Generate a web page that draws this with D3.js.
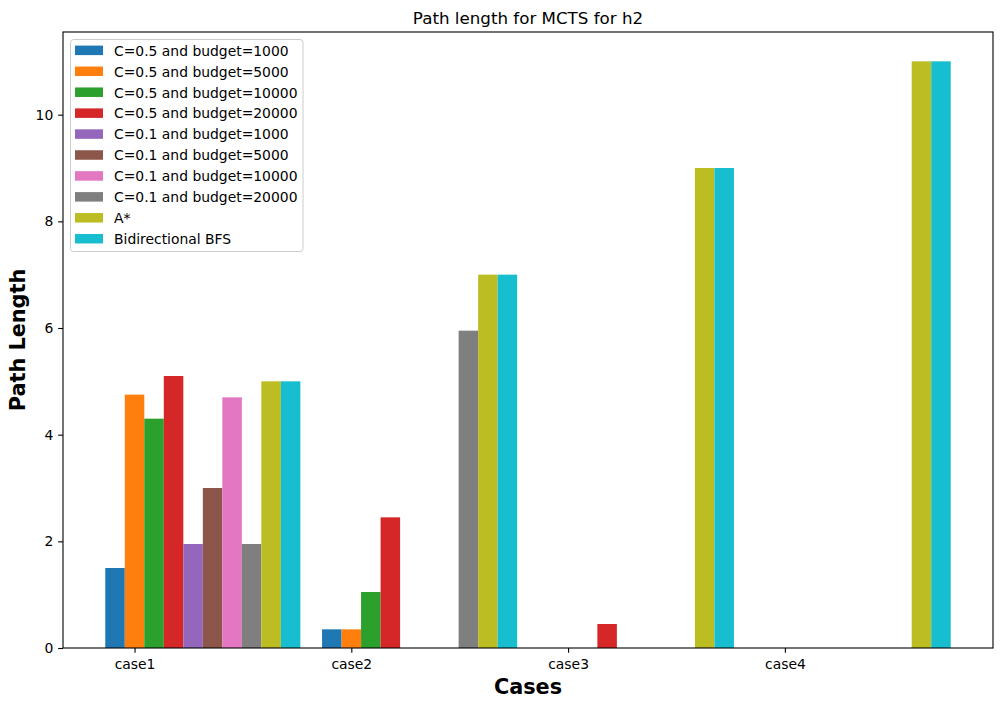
<!DOCTYPE html>
<html lang='en'>

<head>
  <meta charset="utf-8">
  <title>Path length for MCTS for h2</title>
  <style>
    body {
      margin: 0;
      background: #fff;
    }

    svg text {
      font-family: "DejaVu Sans", sans-serif;
      fill: #000;
    }
  </style>
</head>

<body>
  <svg id="chart" width="1002" height="707"></svg>
</body>

<script src="https://d3js.org/d3.v7.min.js"></script>
<script>
  // du lieu doc tu hinh
  const cases = ["case1", "case2", "case3", "case4"];
  const seriesNames = [
    "C=0.5 and budget=1000", "C=0.5 and budget=5000", "C=0.5 and budget=10000", "C=0.5 and budget=20000",
    "C=0.1 and budget=1000", "C=0.1 and budget=5000", "C=0.1 and budget=10000", "C=0.1 and budget=20000",
    "A*", "Bidirectional BFS"
  ];
  const c05_1000 = [1.5, 0.35, 0, 0];
  const c05_5000 = [4.75, 0.35, 0, 0];
  const c05_10000 = [4.3, 1.05, 0, 0];
  const c05_20000 = [5.1, 2.45, 0.45, 0];
  const c01_1000 = [1.95, 0, 0, 0];
  const c01_5000 = [3.0, 0, 0, 0];
  const c01_10000 = [4.7, 0, 0, 0];
  const c01_20000 = [1.95, 5.95, 0, 0];
  const astar = [5, 7, 9, 11];
  const bfs = [5, 7, 9, 11];
  const seriesValues = [c05_1000, c05_5000, c05_10000, c05_20000, c01_1000, c01_5000, c01_10000, c01_20000, astar, bfs];
  const colors = ["#1f77b4", "#ff7f0e", "#2ca02c", "#d62728", "#9467bd", "#8c564b", "#e377c2", "#7f7f7f", "#bcbd22", "#17becf"];
  const yTicks = [0, 2, 4, 6, 8, 10];

  let svg = d3.select("#chart"),
    L = 63, R = 993, T = 32, B = 648,
    bw = 0.09,
    nS = seriesNames.length;

  // gioi han truc x kieu matplotlib (le 5%)
  let xmin = -bw / 2, xmax = (cases.length - 1) + (nS - 1) * bw + bw / 2,
    pad = 0.05 * (xmax - xmin);
  let x = d3.scaleLinear().domain([xmin - pad, xmax + pad]).range([L, R]);
  let ymax = d3.max(seriesValues, s => d3.max(s)) * 1.05;
  let y = d3.scaleLinear().domain([0, ymax]).range([B, T]);

  // cot
  let bars = [];
  seriesValues.forEach((s, k) => s.forEach((v, i) => bars.push({ k: k, i: i, v: v })));
  svg.append("g").selectAll("rect")
    .data(bars.filter(d => d.v > 0))
    .join("rect")
    .attr("x", d => x(d.i + d.k * bw - bw / 2))
    .attr("width", d => x(bw) - x(0))
    .attr("y", d => y(d.v))
    .attr("height", d => y(0) - y(d.v))
    .attr("fill", d => colors[d.k]);

  // truc
  let tk = 4.86;
  let gx = svg.append("g").attr("transform", "translate(0," + B + ")")
    .call(d3.axisBottom(x).tickValues(cases.map((c, i) => i + bw))
      .tickFormat((d, i) => cases[i]).tickSize(tk).tickPadding(tk));
  let gy = svg.append("g").attr("transform", "translate(" + L + ",0)")
    .call(d3.axisLeft(y).tickValues(yTicks).tickFormat(d3.format("d")).tickSize(tk).tickPadding(tk));
  [gx, gy].forEach(g => {
    g.select(".domain").remove();
    g.selectAll(".tick line").attr("stroke", "#000").attr("stroke-width", 1.1);
    g.selectAll(".tick text").style("font-size", "13.9px").attr("fill", "#000");
  });
  gx.selectAll(".tick text").attr("dy", null).attr("y", 0)
    .attr("transform", "translate(0,21)");

  svg.append("rect")
    .attr("x", L).attr("y", T).attr("width", R - L).attr("height", B - T)
    .attr("fill", "none").attr("stroke", "#000").attr("stroke-width", 1.1);

  // chu
  svg.append("text").attr("x", (L + R) / 2).attr("y", 23.5)
    .attr("text-anchor", "middle").style("font-size", "16.7px")
    .text("Path length for MCTS for h2");
  svg.append("text").attr("x", (L + R) / 2).attr("y", 694)
    .attr("text-anchor", "middle").style("font-size", "20.8px").style("font-weight", "bold")
    .text("Cases");
  svg.append("text")
    .attr("transform", "translate(24.5," + (T + B) / 2 + ") rotate(-90)")
    .attr("text-anchor", "middle").style("font-size", "20.8px").style("font-weight", "bold")
    .text("Path Length");

  // chu giai
  let lg = svg.append("g");
  lg.append("rect")
    .attr("x", 70.5).attr("y", 39.5).attr("width", 232.5).attr("height", 212)
    .attr("rx", 3).attr("fill", "#fff").attr("fill-opacity", 0.8)
    .attr("stroke", "#cccccc").attr("stroke-width", 1);
  let row = lg.selectAll("g.row")
    .data(seriesNames)
    .join("g")
    .attr("class", "row")
    .attr("transform", (d, i) => "translate(0," + (50.3 + i * 20.93) + ")");
  row.append("rect")
    .attr("x", 75).attr("y", -4.7).attr("width", 28).attr("height", 9.5)
    .attr("fill", (d, i) => colors[i]);
  row.append("text")
    .attr("x", 114).attr("y", 5.4)
    .style("font-size", "13.9px")
    .text(d => d);
</script>

</html>
